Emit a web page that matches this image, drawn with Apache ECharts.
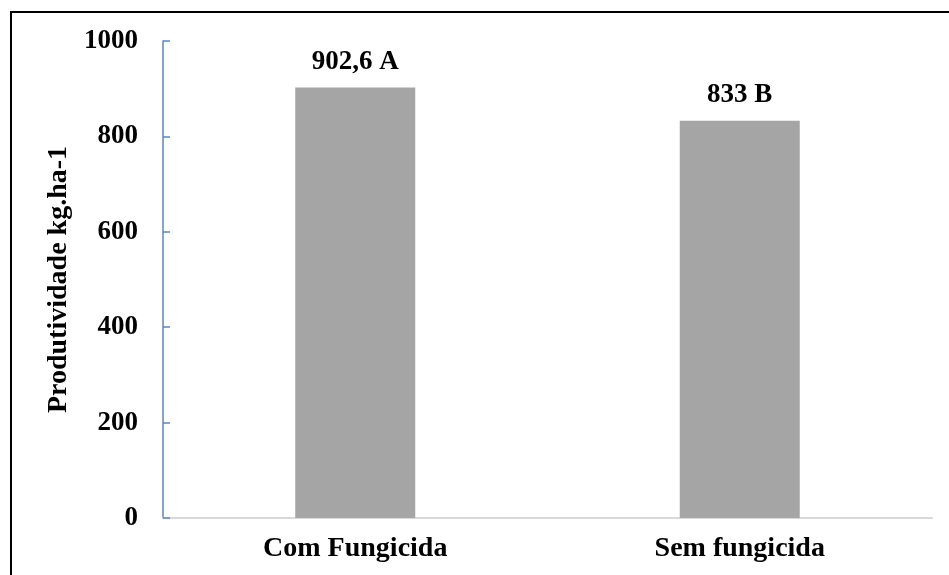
<!DOCTYPE html>
<html>
<head>
<meta charset="utf-8">
<script src="https://cdn.jsdelivr.net/npm/echarts@6/dist/echarts.min.js"></script>
<style>
  html, body { margin: 0; padding: 0; background: #fff; }
  #chart { width: 949px; height: 575px; }
</style>
</head>
<body>
<div id="chart"></div>
<script>
// Yield by treatment
const categories = ['Com Fungicida', 'Sem fungicida'];
const yieldValues = [902.6, 833];
const groupLetters = ['A', 'B'];
const yTicks = [0, 200, 400, 600, 800, 1000];

const fontFamily = '"Liberation Serif", "Times New Roman", serif';

const chart = echarts.init(document.getElementById('chart'));

chart.setOption({
  animation: false,
  backgroundColor: '#ffffff',
  graphic: [{
    type: 'rect',
    shape: { x: 11, y: 12, width: 1000, height: 1000 },
    style: { fill: 'none', stroke: '#000000', lineWidth: 2 },
    silent: true
  }],
  grid: { left: 163, right: 17, top: 41, bottom: 57 },
  xAxis: {
    type: 'category',
    data: categories,
    axisLine: { lineStyle: { color: '#d9d9d9', width: 2 } },
    axisTick: { show: false },
    axisLabel: {
      margin: 17,
      color: '#000000',
      fontFamily: fontFamily,
      fontWeight: 'bold',
      fontSize: 28
    }
  },
  yAxis: {
    type: 'value',
    min: yTicks[0],
    max: yTicks[yTicks.length - 1],
    interval: 200,
    name: 'Produtividade kg.ha-1',
    nameLocation: 'middle',
    nameGap: 76,
    nameTextStyle: {
      color: '#000000',
      fontFamily: fontFamily,
      fontWeight: 'bold',
      fontSize: 28
    },
    axisLine: { show: true, lineStyle: { color: '#5b87c5', width: 1.5 } },
    axisTick: { show: true, inside: true, length: 7, lineStyle: { color: '#5b87c5', width: 1.5 } },
    splitLine: { show: false },
    axisLabel: {
      margin: 25,
      color: '#000000',
      fontFamily: fontFamily,
      fontWeight: 'bold',
      fontSize: 27,
      formatter: function (v) { return String(v); }
    }
  },
  series: [{
    type: 'bar',
    data: yieldValues,
    barWidth: 120,
    itemStyle: { color: '#a5a5a5' },
    label: {
      show: true,
      position: 'top',
      distance: 12,
      color: '#000000',
      fontFamily: fontFamily,
      fontWeight: 'bold',
      fontSize: 27,
      formatter: function (p) {
        return String(p.value).replace('.', ',') + ' ' + groupLetters[p.dataIndex];
      }
    }
  }]
});
</script>
</body>
</html>
